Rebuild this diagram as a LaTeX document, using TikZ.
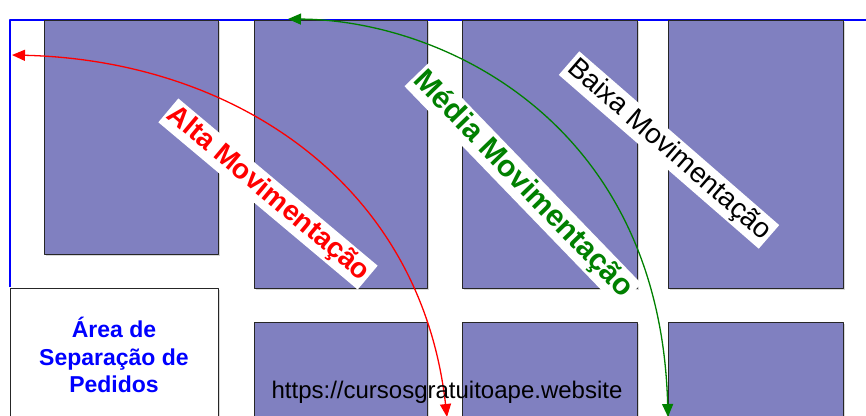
\documentclass[tikz,border=0pt]{standalone}
\usepackage{fontspec}
\setmainfont{Liberation Sans}
\usetikzlibrary{arrows.meta,shadows}

\definecolor{rackcolor}{RGB}{128,128,192}
\definecolor{altacolor}{RGB}{255,0,0}
\definecolor{mediacolor}{RGB}{0,128,0}

\begin{document}
\begin{tikzpicture}[
    x=1pt,
    y=-1pt,
    line join=round,
    rack/.style={
        fill=rackcolor,
        draw=black!85,
        line width=1pt,
        drop shadow={shadow xshift=1.5pt,shadow yshift=-1.5pt,fill=black!30}
    },
    fluxo/.style={
        line width=1.3pt,
        {Triangle[length=13pt,width=11pt]}-{Triangle[length=13pt,width=11pt]}
    },
    faixa/.style={fill=white, inner sep=2.5pt, rotate=#1}
]

\useasboundingbox (0,0) rectangle (866,415);

% =========================================================
% Parameters
% =========================================================

\def\topo{20}      % top edge of the upper racks
\def\base{288}     % bottom edge of the upper racks
\def\inf{322}      % top edge of the lower racks

% =========================================================
% Warehouse outline
% =========================================================

\draw[blue, line width=1.2pt] (10,287) -- (10,\topo) -- (866,\topo);

% =========================================================
% Upper racks
% =========================================================

\draw[rack] (44,\topo) rectangle (218,254);

\foreach \xa/\xb in {254/427, 462/637, 668/843}{
    \draw[rack] (\xa,\topo) rectangle (\xb,\base);
}

% =========================================================
% Lower racks
% =========================================================

\foreach \xa/\xb in {254/427, 462/637, 668/843}{
    \draw[rack] (\xa,\inf) rectangle (\xb,440);
}

% =========================================================
% Order picking area
% =========================================================

\draw[fill=white, draw=black!85, line width=1pt,
      drop shadow={shadow xshift=1.5pt,shadow yshift=-1.5pt,fill=black!30}]
    (10,\base) rectangle (218,440);

\node[text=blue, align=center, font=\bfseries\fontsize{23}{27.5}\selectfont]
    (area) at (114,355) {Área de\\Separação de\\Pedidos};

% =========================================================
% Movement bands
% =========================================================

\node[faixa=-40, text=altacolor, font=\bfseries\fontsize{28}{30}\selectfont]
    (alta) at (268,194) {Alta Movimentação};

\node[faixa=-46, text=mediacolor, font=\bfseries\fontsize{30}{32}\selectfont]
    (media) at (523,185) {Média Movimentação};

\node[faixa=-41, text=black, font=\fontsize{28}{30}\selectfont]
    (baixa) at (669,150) {Baixa Movimentação};

% =========================================================
% Flow arrows
% =========================================================

\coordinate (altaIni) at (12,55);
\coordinate (altaFim) at (447,417);
\coordinate (mediaIni) at (288,19);
\coordinate (mediaFim) at (668,417);

\draw[fluxo, altacolor]
    (altaIni) .. controls (230,60) and (420,180) .. (altaFim);

\draw[fluxo, mediacolor]
    (mediaIni) .. controls (440,20) and (660,120) .. (mediaFim);

% =========================================================
% Site address
% =========================================================

\node[anchor=base, font=\fontsize{24}{26}\selectfont]
    (site) at (447,398) {https://cursosgratuitoape.website};

\end{tikzpicture}
\end{document}
